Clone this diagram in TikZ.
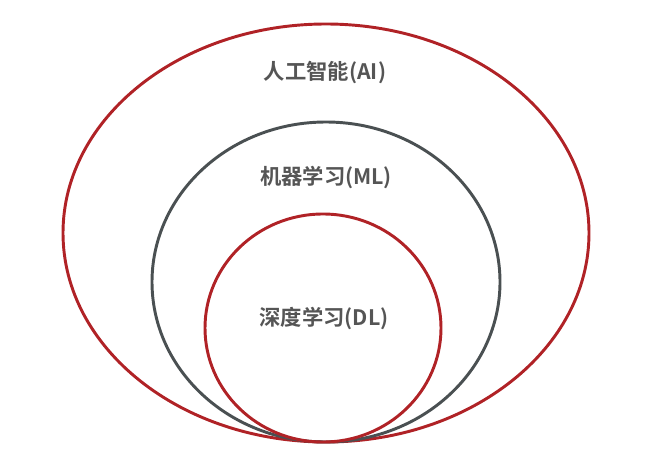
\documentclass[tikz,border=0pt]{standalone}
\usepackage{fontspec}
\newfontfamily\cjk{Noto Sans CJK SC}[BoldFont={Noto Sans CJK SC Bold}]
\definecolor{ringred}{HTML}{B02226}
\definecolor{ringgray}{HTML}{4A5052}
\definecolor{txtgray}{HTML}{555555}
\begin{document}
\begin{tikzpicture}[x=0.75pt,y=-0.75pt,
  ring/.style={line width=2.2pt},
  lbl/.style={font=\cjk\bfseries\fontsize{16}{19}\selectfont, text=txtgray, inner sep=0pt}]
\useasboundingbox (0,0) rectangle (656,460);
\draw[ring, ringred] (326,233) ellipse [x radius=263, y radius=209];
\draw[ring, ringgray] (326,282) ellipse [x radius=174, y radius=160];
\draw[ring, ringred] (323,328) ellipse [x radius=118, y radius=114];
\node[lbl] (ai) at (325,73) {人工智能(AI)};
\node[lbl] (ml) at (326,177) {机器学习(ML)};
\node[lbl] (dl) at (324,318) {深度学习(DL)};
\end{tikzpicture}
\end{document}
